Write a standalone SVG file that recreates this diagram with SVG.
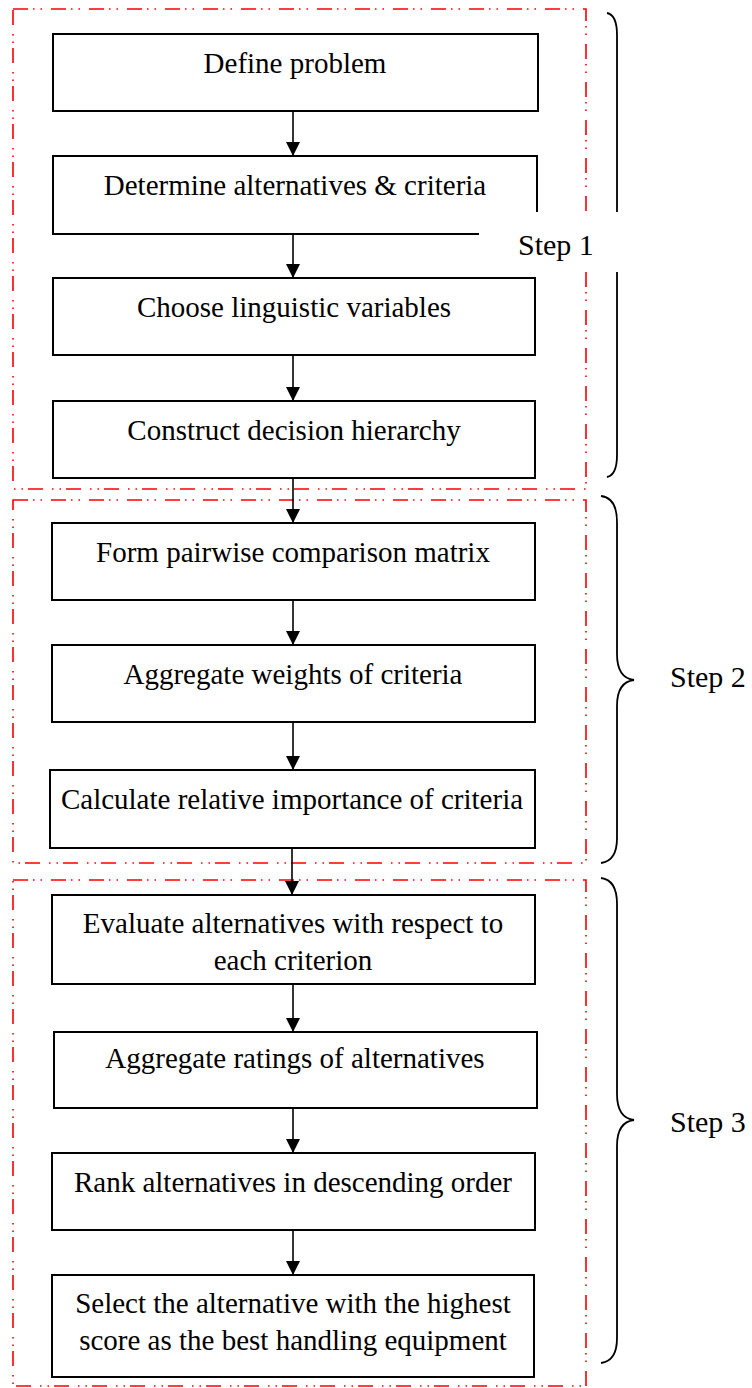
<svg xmlns="http://www.w3.org/2000/svg" width="752" height="1388" viewBox="0 0 752 1388">
<defs>
<style>
.frame{fill:none;stroke:#ff0000;stroke-width:1.6;stroke-dasharray:15 5 1.5 6 1.5 9}
.box{fill:#fff;stroke:#000;stroke-width:2}
.t{font-family:"Liberation Serif","Times New Roman",serif;font-size:29px;fill:#000;text-anchor:middle}
.s{font-family:"Liberation Serif","Times New Roman",serif;font-size:30px;fill:#000}
.con{stroke:#000;stroke-width:1.6;fill:none}
.brace{stroke:#000;stroke-width:1.8;fill:none}
</style>
<marker id="ah" viewBox="0 0 14 14" refX="14" refY="7" markerWidth="14" markerHeight="14" markerUnits="userSpaceOnUse" orient="auto">
<path d="M0,0 L14,7 L0,14 Z" fill="#000"/>
</marker>
</defs>
<rect width="752" height="1388" fill="#fff"/>
<g id="frames">
<rect class="frame" x="13" y="9" width="573" height="480"/>
<rect class="frame" x="13" y="500" width="573" height="363"/>
<rect class="frame" x="13" y="880" width="573" height="506"/>
</g>
<g id="n1"><rect class="box" x="53" y="34" width="485" height="77"/><text class="t" x="295" y="73">Define problem</text></g>
<g id="n2"><rect class="box" x="53" y="156" width="484" height="78"/><text class="t" x="295" y="195">Determine alternatives &amp; criteria</text></g>
<g id="n3"><rect class="box" x="53" y="278" width="482" height="77"/><text class="t" x="294" y="317">Choose linguistic variables</text></g>
<g id="n4"><rect class="box" x="53" y="401" width="482" height="77"/><text class="t" x="294" y="440">Construct decision hierarchy</text></g>
<g id="n5"><rect class="box" x="52" y="523" width="483" height="77"/><text class="t" x="293" y="562">Form pairwise comparison matrix</text></g>
<g id="n6"><rect class="box" x="52" y="645" width="483" height="77"/><text class="t" x="293" y="684">Aggregate weights of criteria</text></g>
<g id="n7"><rect class="box" x="50" y="770" width="485" height="78"/><text class="t" x="292" y="809">Calculate relative importance of criteria</text></g>
<g id="n8"><rect class="box" x="52" y="895" width="483" height="89"/><text class="t" x="293" y="933">Evaluate alternatives with respect to</text><text class="t" x="293" y="970">each criterion</text></g>
<g id="n9"><rect class="box" x="54" y="1032" width="483" height="76"/><text class="t" x="295" y="1068">Aggregate ratings of alternatives</text></g>
<g id="n10"><rect class="box" x="52" y="1153" width="483" height="77"/><text class="t" x="293" y="1192">Rank alternatives in descending order</text></g>
<g id="n11"><rect class="box" x="52" y="1275" width="482" height="102"/><text class="t" x="293" y="1313">Select the alternative with the highest</text><text class="t" x="293" y="1350">score as the best handling equipment</text></g>
<g id="connectors">
<line class="con" x1="293" y1="111" x2="293" y2="156" marker-end="url(#ah)"/>
<line class="con" x1="293" y1="234" x2="293" y2="278" marker-end="url(#ah)"/>
<line class="con" x1="293" y1="355" x2="293" y2="401" marker-end="url(#ah)"/>
<line class="con" x1="293" y1="478" x2="293" y2="523" marker-end="url(#ah)"/>
<line class="con" x1="293" y1="600" x2="293" y2="645" marker-end="url(#ah)"/>
<line class="con" x1="293" y1="722" x2="293" y2="770" marker-end="url(#ah)"/>
<line class="con" x1="292" y1="848" x2="292" y2="895" marker-end="url(#ah)"/>
<line class="con" x1="293" y1="984" x2="293" y2="1032" marker-end="url(#ah)"/>
<line class="con" x1="293" y1="1108" x2="293" y2="1153" marker-end="url(#ah)"/>
<line class="con" x1="293" y1="1230" x2="293" y2="1275" marker-end="url(#ah)"/>
</g>
<g id="braces">
<path class="brace" d="M607,13 Q617,15 617,35 L617,220 Q617,242 630,244 Q617,246 617,268 L617,455 Q617,475 607,477"/>
<path class="brace" d="M601,496 Q617,498 617,522 L617,654 Q617,678 634,680 Q617,682 617,706 L617,838 Q617,861 601,863"/>
<path class="brace" d="M601,878 Q617,880 617,904 L617,1094 Q617,1118 634,1120 Q617,1122 617,1146 L617,1338 Q617,1361 601,1363"/>
</g>
<g id="step1"><rect x="479" y="212" width="160" height="60" fill="#fff"/><text class="s" x="518" y="255">Step 1</text></g>
<g id="step2"><text class="s" x="670" y="687">Step 2</text></g>
<g id="step3"><text class="s" x="670" y="1132">Step 3</text></g>
</svg>
